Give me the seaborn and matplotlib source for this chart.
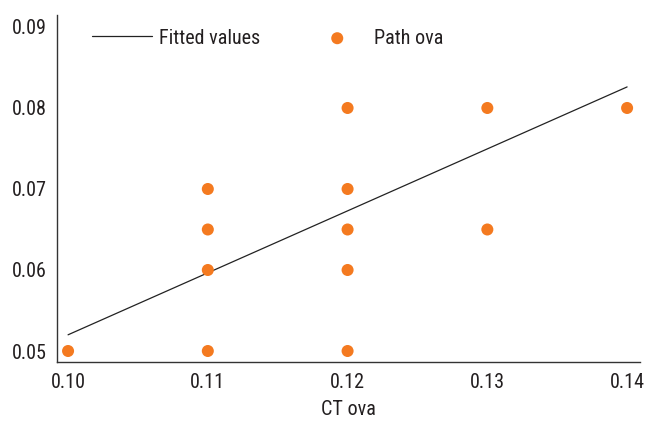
import numpy as np
import pandas as pd
import matplotlib
matplotlib.use("Agg")
import matplotlib.pyplot as plt
from matplotlib import font_manager
import seaborn as sns

# CT ova vs pathology ova
ct_ova = [0.10, 0.11, 0.11, 0.11, 0.11, 0.12, 0.12, 0.12, 0.12, 0.12, 0.13, 0.13, 0.14]
path_ova = [0.050, 0.070, 0.065, 0.060, 0.050, 0.080, 0.070, 0.065, 0.060, 0.050, 0.080, 0.065, 0.080]

# fitted line
fit_intercept = -0.0245
fit_slope = 0.765

x_ticks = [0.10, 0.11, 0.12, 0.13, 0.14]
x_labels = ["0.10", "0.11", "0.12", "0.13", "0.14"]
y_ticks = [0.05, 0.06, 0.07, 0.08, 0.09]
y_labels = ["0.05", "0.06", "0.07", "0.08", "0.09"]

df = pd.DataFrame({"ct": ct_ova, "path": path_ova})
df["fitted"] = fit_intercept + fit_slope * df["ct"]

sns.set_style("white")

# pick a narrow font if one is around
installed = {(f.name, f.stretch) for f in font_manager.fontManager.ttflist}
names = {n for n, s in installed}
family = "DejaVu Sans"
for cand in ["Roboto Condensed", "Liberation Sans Narrow", "Open Sans Condensed"]:
    if cand in names:
        family = cand
        break
else:
    if ("DejaVu Sans", "condensed") in installed or ("DejaVu Sans", 75) in installed:
        plt.rcParams["font.stretch"] = "condensed"
    elif any(n == "Roboto" and s in ("condensed", 75) for n, s in installed):
        family = "Roboto"
        plt.rcParams["font.stretch"] = "condensed"
    else:
        family = "Roboto"
plt.rcParams["font.family"] = [family, "DejaVu Sans"]

fs = 14.5
txt = "#231F20"

fig = plt.figure(figsize=(6.45, 4.21), dpi=100)
ax = fig.add_axes([0.0884, 0.1401, 0.904, 0.8243])

fit_df = df.sort_values("ct")
sns.lineplot(data=fit_df, x="ct", y="fitted", ax=ax, color="#222222",
             linewidth=0.9, label="Fitted values", errorbar=None, estimator=None)
sns.scatterplot(data=df, x="ct", y="path", ax=ax, color="#F47A20",
                s=75, edgecolor="none", label="Path ova", zorder=3)

ax.set_xlim(0.09921, 0.14093)
ax.set_ylim(0.04864, 0.09148)
ax.set_xticks(x_ticks)
ax.set_xticklabels(x_labels)
ax.set_yticks(y_ticks)
ax.set_yticklabels(y_labels)
ax.set_xlabel("CT ova", fontsize=fs, color=txt, labelpad=6)
ax.set_ylabel("")

for side in ["top", "right"]:
    ax.spines[side].set_visible(False)
for side in ["left", "bottom"]:
    ax.spines[side].set_color("#333333")
    ax.spines[side].set_linewidth(1.0)

ax.tick_params(axis="both", direction="in", length=6, width=1.0,
               colors="#333333", labelsize=fs, labelcolor=txt)
ax.tick_params(axis="x", pad=8)
ax.tick_params(axis="y", pad=7.5)
ax.grid(False)

ax.legend(loc="center left", bbox_to_anchor=(92 / 645, 1 - 38 / 421),
          bbox_transform=fig.transFigure, ncol=2, frameon=False,
          borderpad=0, borderaxespad=0,
          fontsize=fs, handlelength=3.0, handletextpad=0.35, columnspacing=2.3,
          markerscale=1.0, labelcolor=txt)

fig.savefig("out.png", dpi=100)
